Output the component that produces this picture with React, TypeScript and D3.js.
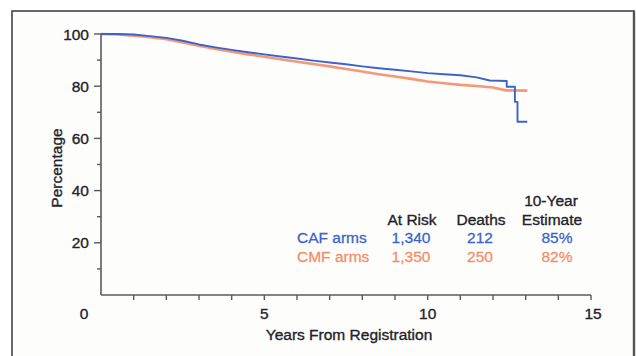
import React from "react";
import * as d3 from "d3";

const cafTimes = [0, 0.5, 1.0, 1.5, 2.0, 2.5, 3.0, 3.5, 4.0, 4.5, 5.0, 5.5, 6.0, 6.5, 7.0, 7.5, 8.0, 8.5, 9.0, 9.5, 10.0, 10.5, 11.0, 11.5, 11.9, 12.42, 12.42, 12.67, 12.67, 12.75, 12.75, 13.05];
const cafSurv = [100, 100, 99.8, 99.2, 98.5, 97.4, 96.0, 94.9, 93.9, 93.0, 92.2, 91.4, 90.6, 89.8, 89.1, 88.4, 87.6, 86.9, 86.3, 85.7, 85.0, 84.6, 84.2, 83.4, 82.2, 82.0, 79.8, 79.8, 74.0, 74.0, 66.4, 66.4];

const cmfTimes = [0, 0.5, 1.0, 1.5, 2.0, 2.5, 3.0, 3.5, 4.0, 4.5, 5.0, 5.5, 6.0, 6.5, 7.0, 7.5, 8.0, 8.5, 9.0, 9.5, 10.0, 10.5, 11.0, 11.5, 12.0, 12.4, 13.05];
const cmfSurv = [100, 99.8, 99.3, 98.8, 98.0, 96.8, 95.5, 94.3, 93.2, 92.2, 91.3, 90.3, 89.4, 88.5, 87.6, 86.6, 85.6, 84.6, 83.7, 82.8, 81.8, 81.1, 80.5, 80.1, 79.5, 78.4, 78.3];

const xTicksMajor = [0, 5, 10, 15];
const xTicksMinor = [1, 2, 3, 4, 5, 6, 7, 8, 9, 10, 11, 12, 13, 14, 15];
const yTicksMajor = [20, 40, 60, 80, 100];
const yTicksMinor = [10, 30, 50, 70, 90];

const armNames = ["CAF arms", "CMF arms"];
const atRisk = ["1,340", "1,350"];
const deaths = ["212", "250"];
const estimates = ["85%", "82%"];

const BLUE = "#3b63c9";
const ORANGE = "#f58c68";
const TEXT = "#1f232b";
const AXIS = "#5a5a5a";
const FONT = "'Liberation Sans', Arial, Helvetica, sans-serif";

export default function App() {
  const x = d3.scaleLinear().domain([0, 15]).range([101, 591]);
  const y = d3.scaleLinear().domain([0, 100]).range([295, 34]);

  const line = d3
    .line<[number, number]>()
    .x((d) => x(d[0]))
    .y((d) => y(d[1]))
    .curve(d3.curveLinear);

  const caf: [number, number][] = cafTimes.map((t, i) => [t, cafSurv[i]]);
  const cmf: [number, number][] = cmfTimes.map((t, i) => [t, cmfSurv[i]]);

  const colors = [BLUE, ORANGE];
  const fs = 15.5;
  const sw = 0.35;

  return (
    <svg
      width={636}
      height={356}
      style={{ position: "absolute", left: 0, top: 0, background: "#ffffff" }}
      fontFamily={FONT}
    >
      <rect x={12} y={11} width={622} height={360} fill="#fdfdfb" stroke="#444" strokeWidth={1.6} />
      <line x1={634} y1={11} x2={634} y2={356} stroke="#555" strokeWidth={2.4} />

      {/* curves */}
      <path d={line(cmf) || ""} fill="none" stroke={ORANGE} strokeWidth={2.6} strokeOpacity={0.9} strokeLinejoin="round" />
      <path d={line(caf) || ""} fill="none" stroke={BLUE} strokeWidth={1.9} strokeLinejoin="round" />

      {/* y axis */}
      <line x1={x(0)} y1={y(100)} x2={x(0)} y2={y(0)} stroke={AXIS} strokeWidth={1.6} />
      {yTicksMajor.map((v) => (
        <g key={"ym" + v}>
          <line x1={x(0) - 7} x2={x(0)} y1={y(v)} y2={y(v)} stroke={AXIS} strokeWidth={1.4} />
          <text x={89} y={y(v)} dy="0.36em" textAnchor="end" fontSize={fs} fill={TEXT} stroke={TEXT} strokeWidth={sw}>
            {v}
          </text>
        </g>
      ))}
      {yTicksMinor.map((v) => (
        <line key={"yn" + v} x1={x(0) - 4} x2={x(0)} y1={y(v)} y2={y(v)} stroke={AXIS} strokeWidth={1.4} />
      ))}

      {/* x axis */}
      <line x1={x(0)} y1={y(0)} x2={x(15)} y2={y(0)} stroke={AXIS} strokeWidth={1.6} />
      {xTicksMinor.map((v) => (
        <line key={"xt" + v} x1={x(v)} x2={x(v)} y1={y(0)} y2={y(0) + 5} stroke={AXIS} strokeWidth={1.4} />
      ))}
      {xTicksMajor.map((v) => (
        <text
          key={"xl" + v}
          x={v === 0 ? x(0) - 17 : x(v) + (v === 15 ? 2 : 0)}
          y={319}
          textAnchor="middle"
          fontSize={fs}
          fill={TEXT}
          stroke={TEXT}
          strokeWidth={sw}
        >
          {v}
        </text>
      ))}

      {/* axis titles */}
      <text x={349} y={340} textAnchor="middle" fontSize={fs} fill={TEXT} stroke={TEXT} strokeWidth={sw}>
        Years From Registration
      </text>
      <text
        transform={`translate(62,${168}) rotate(-90)`}
        textAnchor="middle"
        fontSize={fs}
        fill={TEXT}
        stroke={TEXT}
        strokeWidth={sw}
      >
        Percentage
      </text>

      {/* table */}
      <g fontSize={fs} fill={TEXT} stroke={TEXT} strokeWidth={sw}>
        <text x={551} y={206} textAnchor="middle">10-Year</text>
        <text x={552} y={224.5} textAnchor="middle">Estimate</text>
        <text x={412} y={224.5} textAnchor="middle">At Risk</text>
        <text x={481} y={224.5} textAnchor="middle">Deaths</text>
      </g>
      {armNames.map((name, i) => {
        const yy = 243 + i * 18.5;
        return (
          <g key={name} fill={colors[i]} stroke={colors[i]} strokeWidth={sw * 0.8} fontSize={fs}>
            <text x={297} y={yy}>{name}</text>
            <text x={411} y={yy} textAnchor="middle">{atRisk[i]}</text>
            <text x={480} y={yy} textAnchor="middle">{deaths[i]}</text>
            <text x={557} y={yy} textAnchor="middle">{estimates[i]}</text>
          </g>
        );
      })}
    </svg>
  );
}
